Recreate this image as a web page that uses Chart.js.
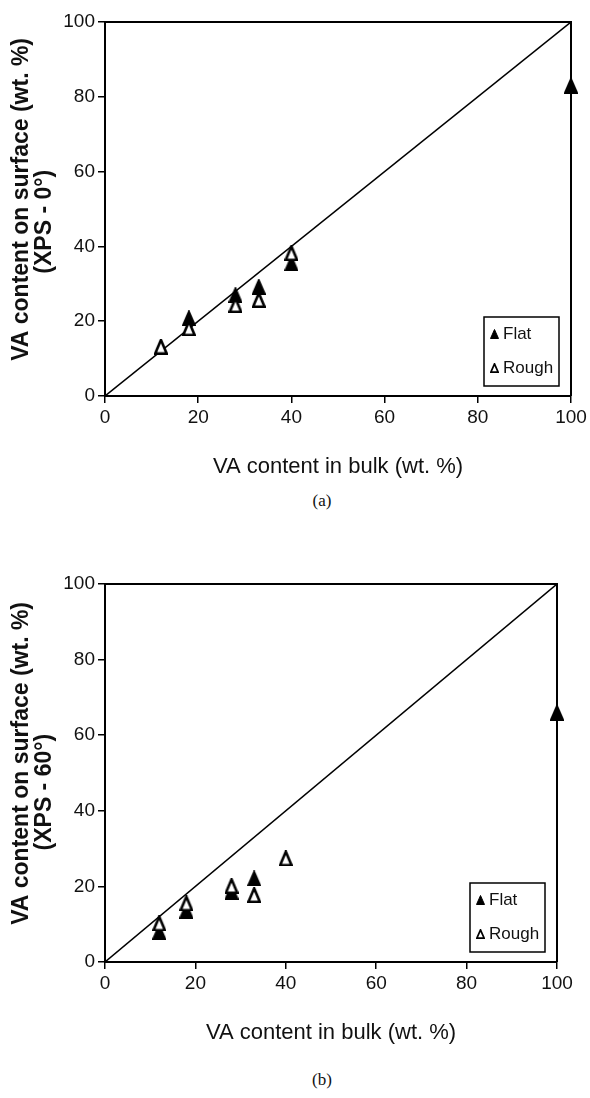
<!DOCTYPE html>
<html><head><meta charset="utf-8">
<script src="https://cdn.jsdelivr.net/npm/chart.js@4/dist/chart.umd.min.js"></script>
<style>
html,body{margin:0;padding:0;background:#fff;width:590px;height:1098px;overflow:hidden;}
.wrap{position:absolute;left:0;width:590px;}
.cap{position:absolute;transform:translateX(-50%);font-family:"Liberation Serif","DejaVu Serif",serif;font-size:17px;color:#111;white-space:nowrap;}
</style></head><body>
<div class="wrap" style="top:0;height:480px"><canvas id="c1" width="590" height="480"></canvas></div>
<div class="cap" style="top:491px;left:322px">(a)</div>
<div class="wrap" style="top:540px;height:520px"><canvas id="c2" width="590" height="520"></canvas></div>
<div class="cap" style="top:1070px;left:322px">(b)</div>
<script>
const bulkVA = [12, 18, 28, 33, 40, 100];
const flatA = [null, 20.8, 27.0, 29.2, 35.5, 83];
const roughA = [13.2, 18.1, 24.3, 25.7, 38.2, null];
const flatB = [8.0, 13.6, 18.6, 22.1, null, 66];
const roughB = [10.2, 15.5, 20.1, 17.7, 27.4, null];
const diagX = [0, 100];
const diagY = [0, 100];
const axisTicks = [0, 20, 40, 60, 80, 100];
const xTitle = 'VA content in bulk (wt. %)';
const yTitleA = ['   VA content on surface (wt. %)', '(XPS - 0°)    '];
const yTitleB = ['   VA content on surface (wt. %)', '(XPS - 60°)      '];
const seriesNames = ['Flat', 'Rough'];

const FONT = '"Liberation Sans", Arial, Helvetica, sans-serif';

function triCanvas(w, h, fill, lw) {
  const c = document.createElement('canvas');
  c.width = w; c.height = h;
  const g = c.getContext('2d');
  const i = lw / 2;
  g.beginPath();
  g.moveTo(w / 2, i);
  g.lineTo(w - i, h - i);
  g.lineTo(i, h - i);
  g.closePath();
  g.fillStyle = fill; g.fill();
  g.lineWidth = lw; g.strokeStyle = '#000'; g.lineJoin = 'miter'; g.stroke();
  return c;
}
const flatMark = triCanvas(14, 16, '#000', 1.5);
const roughMark = triCanvas(14, 16, '#fff', 2.6);
const flatLeg = triCanvas(9, 10, '#000', 1);
const roughLeg = triCanvas(9, 10, '#fff', 1.7);

function pts(xs, ys) {
  return xs.map((x, i) => ({x: x, y: ys[i]})).filter(p => p.y !== null);
}

const framePlugin = {
  id: 'frame',
  beforeDatasetsDraw(chart) {
    const {ctx, chartArea: a} = chart;
    ctx.save();
    ctx.strokeStyle = '#000'; ctx.lineWidth = 2;
    ctx.beginPath();
    ctx.moveTo(a.left, a.top); ctx.lineTo(a.right, a.top); ctx.lineTo(a.right, a.bottom);
    ctx.stroke();
    ctx.restore();
  }
};
const legendPlugin = {
  id: 'boxLegend',
  afterDraw(chart) {
    const {ctx, chartArea: a} = chart;
    const w = 75, h = 69;
    const x = a.right - 12 - w, y = a.bottom - 10 - h;
    ctx.save();
    ctx.fillStyle = '#fff'; ctx.fillRect(x, y, w, h);
    ctx.lineWidth = 1.5; ctx.strokeStyle = '#000'; ctx.strokeRect(x, y, w, h);
    ctx.font = '17px ' + FONT; ctx.fillStyle = '#111'; ctx.textBaseline = 'middle'; ctx.textAlign = 'left';
    const marks = [flatLeg, roughLeg];
    seriesNames.forEach((n, i) => {
      const cy = y + 17 + i * 34;
      const m = marks[i];
      ctx.drawImage(m, Math.round(x + 10 - m.width / 2), Math.round(cy - m.height / 2));
      ctx.fillText(n, x + 19, cy);
    });
    ctx.restore();
  }
};

function makeChart(id, flat, rough, yTitle, geom) {
  const axisCommon = () => ({
    type: 'linear', min: 0, max: 100,
    afterBuildTicks: s => { s.ticks = axisTicks.map(v => ({value: v})); },
    grid: {drawOnChartArea: false, drawTicks: true, tickLength: 7, color: '#000', lineWidth: 1.5},
    border: {display: true, color: '#000', width: 2},
    ticks: {color: '#111', font: {family: FONT, size: 19}, padding: 3, autoSkip: false, maxRotation: 0}
  });
  const xs = axisCommon();
  xs.position = 'bottom';
  xs.afterFit = s => { s.height = 84; };
  xs.title = {display: true, text: xTitle, color: '#111', font: {family: FONT, size: 22}, padding: {top: 0, bottom: 0}};
  const ys = axisCommon();
  ys.position = 'left';
  ys.afterFit = s => { s.width = 105; };
  ys.title = {display: true, text: yTitle, color: '#111', font: {family: FONT, size: 23, weight: 'bold', lineHeight: 1.0}, padding: {top: 10, bottom: 0}};
  return new Chart(document.getElementById(id), {
    data: {
      datasets: [
        {type: 'scatter', label: seriesNames[1], data: pts(bulkVA, rough), pointStyle: roughMark, pointRadius: 7, order: 0, clip: false},
        {type: 'scatter', label: seriesNames[0], data: pts(bulkVA, flat), pointStyle: flatMark, pointRadius: 7, order: 1, clip: false},
        {type: 'line', label: 'y = x', data: pts(diagX, diagY), borderColor: '#000', borderWidth: 1.5, pointRadius: 0, order: 2, fill: false}
      ]
    },
    options: {
      responsive: false, animation: false, devicePixelRatio: 1,
      layout: {padding: geom},
      plugins: {legend: {display: false}, tooltip: {enabled: false}},
      scales: {x: xs, y: ys}
    },
    plugins: [framePlugin, legendPlugin]
  });
}
makeChart('c1', flatA, roughA, yTitleA, {top: 22, right: 19, left: 0, bottom: 0});
makeChart('c2', flatB, roughB, yTitleB, {top: 44, right: 33, left: 0, bottom: 14});
</script>
</body></html>
